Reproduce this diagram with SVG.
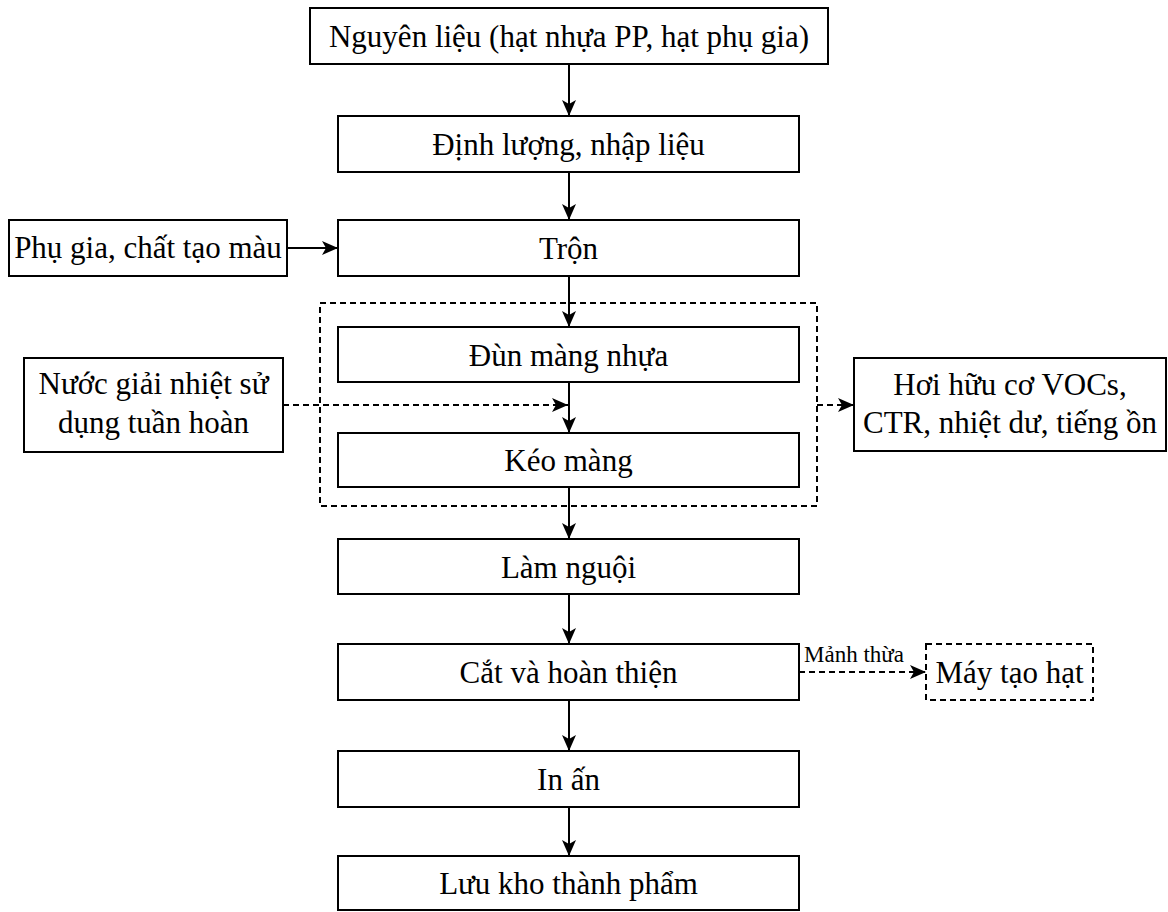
<svg xmlns="http://www.w3.org/2000/svg" width="1168" height="912" viewBox="0 0 1168 912">
<style>
.box{fill:#fff;stroke:#000;stroke-width:2}
.dbox{fill:none;stroke:#000;stroke-width:2;stroke-dasharray:6 4}
.t{font-family:"Liberation Serif","Times New Roman",serif;font-size:31px;fill:#000;text-anchor:middle}
.s{font-family:"Liberation Serif","Times New Roman",serif;font-size:23px;fill:#000;text-anchor:middle}
.ln{fill:none;stroke:#000;stroke-width:2}
.dl{fill:none;stroke:#000;stroke-width:2;stroke-dasharray:6 4}
</style>
<defs>
<marker id="ah" markerUnits="userSpaceOnUse" markerWidth="17" markerHeight="14" refX="16" refY="7" orient="auto">
<path d="M0,0 L16,7 L0,14 L4,7 z" fill="#000"/>
</marker>
</defs>
<g id="connectors">
<line class="ln" x1="569" y1="64" x2="569" y2="116" marker-end="url(#ah)"/>
<line class="ln" x1="569" y1="172" x2="569" y2="220" marker-end="url(#ah)"/>
<line class="ln" x1="287" y1="248" x2="338" y2="248" marker-end="url(#ah)"/>
<line class="ln" x1="569" y1="276" x2="569" y2="327" marker-end="url(#ah)"/>
<line class="ln" x1="569" y1="382" x2="569" y2="433" marker-end="url(#ah)"/>
<line class="dl" x1="283" y1="405" x2="568" y2="405" marker-end="url(#ah)"/>
<line class="dl" x1="817" y1="405" x2="854" y2="405" marker-end="url(#ah)"/>
<line class="ln" x1="569" y1="487" x2="569" y2="539" marker-end="url(#ah)"/>
<line class="ln" x1="569" y1="594" x2="569" y2="644" marker-end="url(#ah)"/>
<line class="dl" x1="799" y1="672" x2="926" y2="672" marker-end="url(#ah)"/>
<line class="ln" x1="569" y1="700" x2="569" y2="751" marker-end="url(#ah)"/>
<line class="ln" x1="569" y1="807" x2="569" y2="856" marker-end="url(#ah)"/>
<rect x="801" y="643" width="106" height="22" fill="#fff"/>
<text class="s" x="854" y="662">Mảnh thừa</text>
</g>
<g id="group-extrusion">
<rect class="dbox" x="320" y="303" width="497" height="203"/>
</g>
<g id="n-nguyenlieu">
<rect class="box" x="310" y="8" width="518" height="56"/>
<text class="t" x="569" y="47">Nguyên liệu (hạt nhựa PP, hạt phụ gia)</text>
</g>
<g id="n-dinhluong">
<rect class="box" x="338" y="116" width="461" height="56"/>
<text class="t" x="568.5" y="155">Định lượng, nhập liệu</text>
</g>
<g id="n-phugia">
<rect class="box" x="9" y="220" width="278" height="56"/>
<text class="t" x="148" y="258">Phụ gia, chất tạo màu</text>
</g>
<g id="n-tron">
<rect class="box" x="338" y="220" width="461" height="56"/>
<text class="t" x="568.5" y="259">Trộn</text>
</g>
<g id="n-dun">
<rect class="box" x="338" y="327" width="461" height="55"/>
<text class="t" x="568.5" y="366">Đùn màng nhựa</text>
</g>
<g id="n-nuoc">
<rect class="box" x="24" y="358" width="259" height="94"/>
<text class="t" x="153.5" y="394">Nước giải nhiệt sử</text>
<text class="t" x="153.5" y="433">dụng tuần hoàn</text>
</g>
<g id="n-keo">
<rect class="box" x="338" y="433" width="461" height="54"/>
<text class="t" x="568.5" y="471">Kéo màng</text>
</g>
<g id="n-hoi">
<rect class="box" x="854" y="358" width="312" height="93"/>
<text class="t" x="1010" y="395">Hơi hữu cơ VOCs,</text>
<text class="t" x="1010" y="433">CTR, nhiệt dư, tiếng ồn</text>
</g>
<g id="n-lamnguoi">
<rect class="box" x="338" y="539" width="461" height="55"/>
<text class="t" x="568.5" y="578">Làm nguội</text>
</g>
<g id="n-cat">
<rect class="box" x="338" y="644" width="461" height="56"/>
<text class="t" x="568.5" y="683">Cắt và hoàn thiện</text>
</g>
<g id="n-may">
<rect class="dbox" x="926" y="644" width="167" height="56"/>
<text class="t" x="1009.5" y="683">Máy tạo hạt</text>
</g>
<g id="n-inan">
<rect class="box" x="338" y="751" width="461" height="56"/>
<text class="t" x="568.5" y="790">In ấn</text>
</g>
<g id="n-luukho">
<rect class="box" x="338" y="856" width="461" height="54"/>
<text class="t" x="568.5" y="894">Lưu kho thành phẩm</text>
</g>
</svg>
